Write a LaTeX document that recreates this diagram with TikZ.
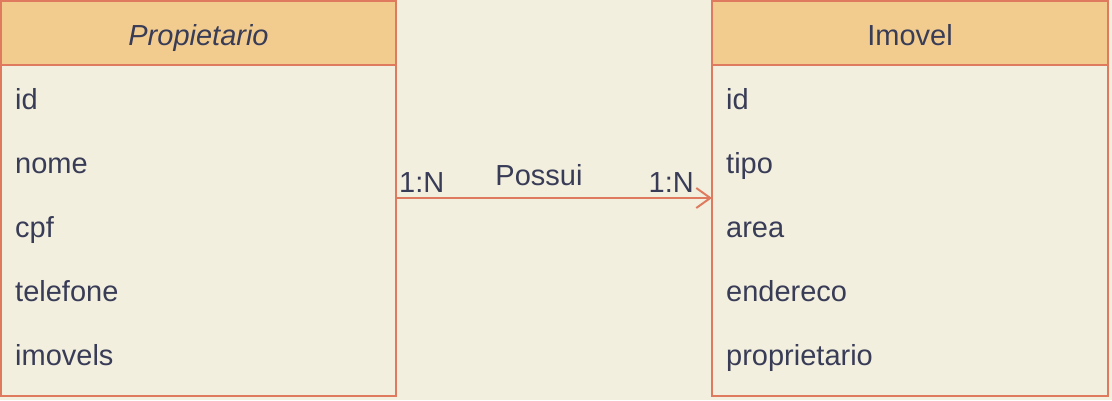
\documentclass[tikz,border=0pt]{standalone}
\usepackage{fontspec}
\setmainfont{Liberation Sans}
\usetikzlibrary{arrows.meta}
\definecolor{bgc}{HTML}{F2EFDF}
\definecolor{hdr}{HTML}{F2CC8F}
\definecolor{brd}{HTML}{E07A5F}
\definecolor{txt}{HTML}{393C56}
\tikzset{
  fld/.style={anchor=base west, inner sep=0pt, text=txt, font=\fontsize{29}{34}\selectfont},
  ttl/.style={anchor=base, inner sep=0pt, text=txt, font=\fontsize{29}{34}\selectfont},
  lbl/.style={inner sep=0pt, text=txt, font=\fontsize{29}{34}\selectfont},
  boxline/.style={draw=brd, line width=2pt},
}
\begin{document}
\begin{tikzpicture}[x=1pt,y=-1pt]
\fill[bgc] (0,0) rectangle (1112,400);
\useasboundingbox (0,0) rectangle (1112,400);
% left entity
\fill[bgc] (1,1) rectangle (396,396);
\fill[hdr] (1,1) rectangle (396,65);
\draw[boxline] (1,1) rectangle (396,396);
\draw[boxline] (1,65) -- (396,65);
\node[ttl] (ptitle) at (198.5,45) {\itshape Propietario};
\node[fld] (p1) at (15,109) {id};
\node[fld] (p2) at (15,173) {nome};
\node[fld] (p3) at (15,237) {cpf};
\node[fld] (p4) at (15,301) {telefone};
\node[fld] (p5) at (15,365) {imovels};
\coordinate (pr) at (396,198);
% right entity
\fill[bgc] (712,1) rectangle (1108,396);
\fill[hdr] (712,1) rectangle (1108,65);
\draw[boxline] (712,1) rectangle (1108,396);
\draw[boxline] (712,65) -- (1108,65);
\node[ttl] (ititle) at (910,45) {Imovel};
\node[fld] (i1) at (726,109) {id};
\node[fld] (i2) at (726,173) {tipo};
\node[fld] (i3) at (726,237) {area};
\node[fld] (i4) at (726,301) {endereco};
\node[fld] (i5) at (726,365) {proprietario};
\coordinate (il) at (712,198);
% connector
\draw[brd, line width=2pt, -{Straight Barb[length=14pt,width=20pt,line width=2pt]}] (pr) -- (il);
\node[lbl, anchor=base west] (lm) at (399,192) {1:N};
\node[lbl, anchor=base] (rel) at (539,185) {Possui};
\node[lbl, anchor=base east] (rm) at (694,192) {1:N};
\end{tikzpicture}
\end{document}
